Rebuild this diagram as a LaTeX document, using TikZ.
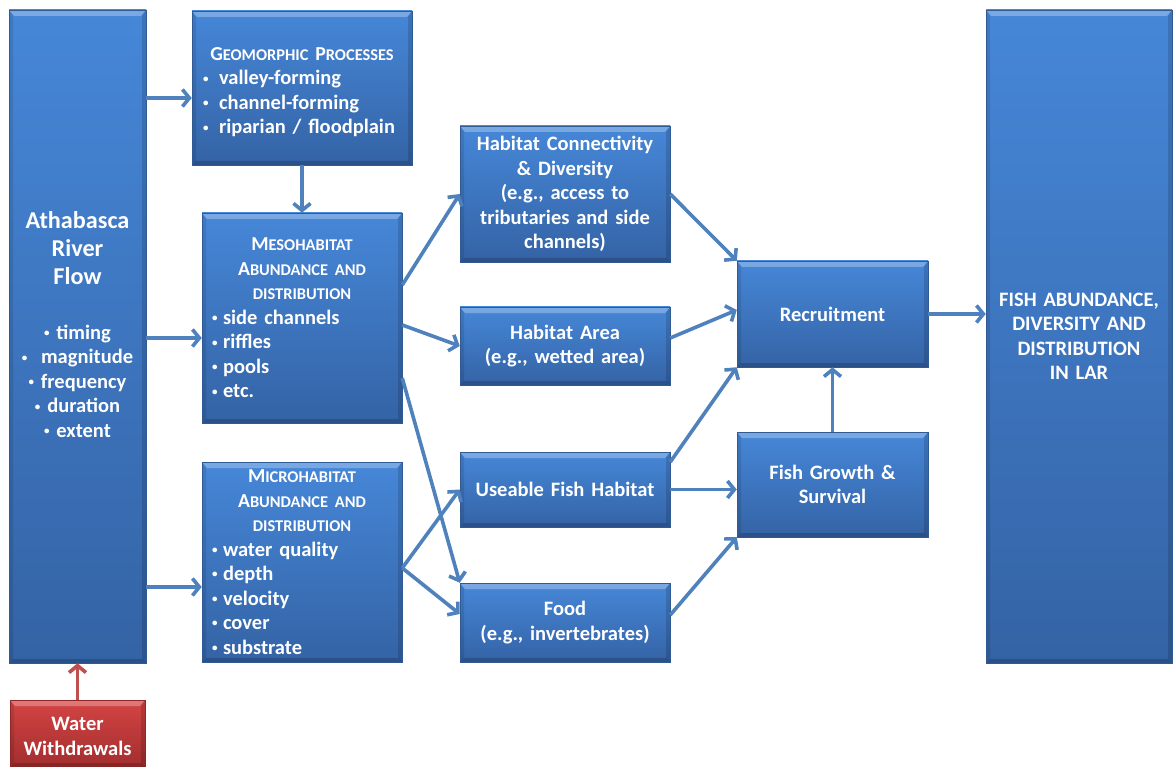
\documentclass[tikz,border=0pt]{standalone}
\usepackage{fontspec}
\setmainfont{Carlito}
\usetikzlibrary{arrows.meta}

\definecolor{boxtop}{HTML}{4687D8}
\definecolor{boxbot}{HTML}{3463A5}
\definecolor{boxline}{HTML}{2F5A94}
\definecolor{redtop}{HTML}{D44444}
\definecolor{redbot}{HTML}{A22E2E}
\definecolor{redline}{HTML}{8E2828}
\definecolor{arrowblue}{HTML}{4F81BD}
\definecolor{arrowred}{HTML}{C0504D}

% small-caps heading: capital at full size, the rest as smaller capitals
\newcommand\scap[2]{{\fontsize{19.8}{24.5}\selectfont #1}{\fontsize{16.4}{24.5}\selectfont #2}}
\newcommand\smallcaps[1]{{\fontsize{16.4}{24.5}\selectfont #1}}
% a small raised bullet
\newcommand\bdot{\raisebox{2.6pt}{\fontsize{11}{11}\selectfont •}}
% bullet in a box of a given width before an entry
\newcommand\bi[1]{\makebox[#1][l]{\hspace{1pt}\bdot}}

\tikzset{
  bevel/.style={path picture={
    \fill[white,opacity=0.28]
      (path picture bounding box.north west) -- (path picture bounding box.north east)
      -- ([shift={(-5pt,-6pt)}]path picture bounding box.north east)
      -- ([shift={(5pt,-6pt)}]path picture bounding box.north west) -- cycle;
    \fill[black,opacity=0.10]
      (path picture bounding box.north west) -- ([shift={(4pt,-6pt)}]path picture bounding box.north west)
      -- ([shift={(4pt,4pt)}]path picture bounding box.south west)
      -- (path picture bounding box.south west) -- cycle;
    \fill[black,opacity=0.14]
      (path picture bounding box.north east) -- ([shift={(-4pt,-6pt)}]path picture bounding box.north east)
      -- ([shift={(-4pt,4pt)}]path picture bounding box.south east)
      -- (path picture bounding box.south east) -- cycle;
    \fill[black,opacity=0.18]
      (path picture bounding box.south west) -- (path picture bounding box.south east)
      -- ([shift={(-4pt,4pt)}]path picture bounding box.south east)
      -- ([shift={(4pt,4pt)}]path picture bounding box.south west) -- cycle;
  }},
  box/.style={rectangle, top color=boxtop, bottom color=boxbot, draw=boxline,
    line width=0.5pt, text=white, inner sep=0pt, align=center, bevel,
    font=\bfseries\fontsize{20.5}{24.5}\selectfont},
  redbox/.style={box, top color=redtop, bottom color=redbot, draw=redline},
  arr/.style={draw=arrowblue, line width=3.6pt,
    -{Straight Barb[length=7pt,width=17pt]}},
  redarr/.style={arr, draw=arrowred}
}

\begin{document}
\begin{tikzpicture}[x=1pt,y=-1pt]
\useasboundingbox (0,0) rectangle (1175,767);

% driver and outcome columns
\node[box, minimum width=137, minimum height=653, text width=134] (athab) at (77.5,336.5)
  {{\fontsize{24.2}{28}\selectfont Athabasca\\River\\Flow\par}\vspace{30pt}
   \bdot\ timing\\ \bdot\ \ magnitude\\ \bdot\ frequency\\ \bdot\ duration\\ \bdot\ extent\par\vspace*{24pt}};
\node[box, minimum width=186, minimum height=653, text width=182] (fish) at (1079,336.5)
  {FISH ABUNDANCE,\\ DIVERSITY AND\\ DISTRIBUTION\\ IN LAR};
\node[redbox, minimum width=135, minimum height=67, text width=132] (ww) at (77.5,733.5)
  {\rule{0pt}{19pt}Water\\ Withdrawals};

% habitat processes
\node[box, minimum width=220, minimum height=154, text width=200, align=left] (geo) at (302,88)
  {\makebox[\linewidth]{\rule{0pt}{21pt}\scap{G}{EOMORPHIC} \scap{P}{ROCESSES}}\\
   \bi{17pt}valley-forming\\ \bi{17pt}channel-forming\\ \bi{17pt}riparian / floodplain};
\node[box, minimum width=200, minimum height=210, text width=182, align=left] (meso) at (302,318)
  {\makebox[\linewidth]{\scap{M}{ESOHABITAT}}\\
   \makebox[\linewidth]{\scap{A}{BUNDANCE AND}}\\
   \makebox[\linewidth]{\smallcaps{DISTRIBUTION}}\\
   \bi{12pt}side channels\\ \bi{12pt}riffles\\ \bi{12pt}pools\\ \bi{12pt}etc.};
\node[box, minimum width=200, minimum height=200, text width=182, align=left] (micro) at (302,562)
  {\makebox[\linewidth]{\scap{M}{ICROHABITAT}}\\
   \makebox[\linewidth]{\scap{A}{BUNDANCE AND}}\\
   \makebox[\linewidth]{\smallcaps{DISTRIBUTION}}\\
   \bi{12pt}water quality\\ \bi{12pt}depth\\ \bi{12pt}velocity\\ \bi{12pt}cover\\ \bi{12pt}substrate};

% habitat outcomes
\node[box, minimum width=210, minimum height=136, text width=204] (hc) at (565,194)
  {Habitat Connectivity\\ \& Diversity\\ (e.g., access to\\ tributaries and side\\ channels)};
\node[box, minimum width=210, minimum height=78, text width=204] (ha) at (565,346)
  {Habitat Area\\ (e.g., wetted area)};
\node[box, minimum width=210, minimum height=75, text width=204] (uf) at (565,489.5)
  {Useable Fish Habitat};
\node[box, minimum width=210, minimum height=79, text width=204] (food) at (565,622.5)
  {Food\\ (e.g., invertebrates)};

% population responses
\node[box, minimum width=191, minimum height=106, text width=186] (rec) at (832.5,314)
  {Recruitment};
\node[box, minimum width=191, minimum height=105, text width=186] (fg) at (832.5,484.5)
  {Fish Growth \&\\ Survival};

% connectors
\draw[redarr] (ww.north) -- (athab.south);
\draw[arr] (athab.east |- 0,98) -- (geo.west |- 0,98);
\draw[arr] (athab.east |- 0,338) -- (meso.west |- 0,338);
\draw[arr] (athab.east |- 0,587) -- (micro.west |- 0,587);
\draw[arr] (geo.south) -- (meso.north);
\draw[arr] (meso.east |- 0,285) -- (hc.west);
\draw[arr] (meso.east |- 0,325) -- (ha.west);
\draw[arr] (meso.east |- 0,378) -- (food.north west);
\draw[arr] (micro.east |- 0,568) -- (uf.west);
\draw[arr] (micro.east |- 0,568) -- (food.west |- 0,614);
\draw[arr] (hc.east) -- (rec.north west);
\draw[arr] (ha.east |- 0,338) -- (rec.west |- 0,310);
\draw[arr] (uf.east |- 0,462) -- (rec.south west);
\draw[arr] (uf.east) -- (fg.west |- uf.east);
\draw[arr] (food.east |- 0,615) -- (fg.south west);
\draw[arr] (fg.north) -- (rec.south);
\draw[arr] (rec.east) -- (fish.west |- rec.east);
\end{tikzpicture}
\end{document}
